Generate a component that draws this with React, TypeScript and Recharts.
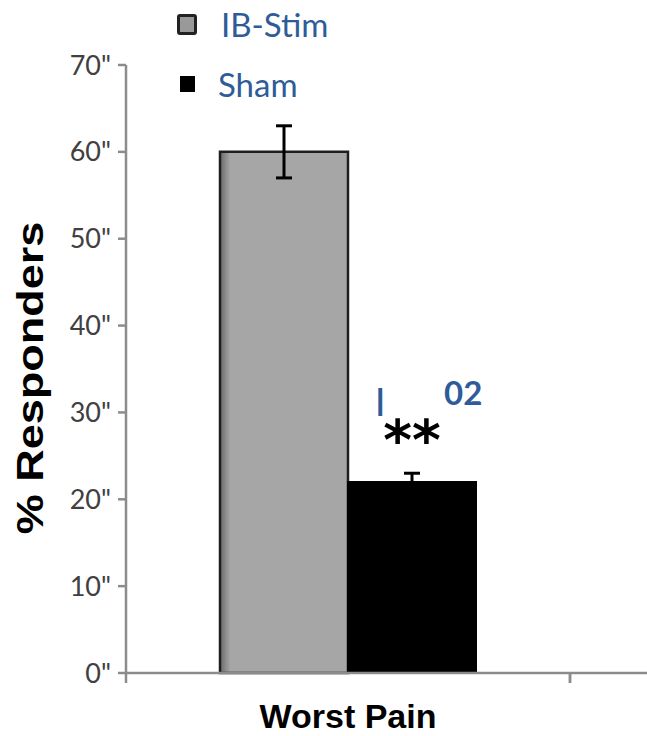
import React from 'react';
import { BarChart, Bar, XAxis, YAxis, ErrorBar, Legend, LabelList } from 'recharts';

const categories = ['Worst Pain', ''];
const ibStim = [60, null];
const ibStimErr = [3, null];
const sham = [22, null];
const shamErr = [1, null];
const yTicks = [0, 10, 20, 30, 40, 50, 60, 70];

const data = categories.map((name, i) => ({
  name,
  ib: ibStim[i],
  ibErr: ibStimErr[i],
  sham: sham[i],
  shamErr: shamErr[i],
}));

const CHART_W = 1014;
const CHART_H = 736;
const AXIS_W = 126;
const BAND = (CHART_W - AXIS_W) / categories.length;
const BLUE = '#2e5c99';
const AXIS_GRAY = '#8c8c8c';

const XTick = (props: any) => {
  const { x, y, payload } = props;
  return (
    <g>
      <line x1={x - BAND / 2} x2={x - BAND / 2} y1={y} y2={y + 10} stroke={AXIS_GRAY} strokeWidth={2.5} />
      <line x1={x + BAND / 2} x2={x + BAND / 2} y1={y} y2={y + 10} stroke={AXIS_GRAY} strokeWidth={2.5} />
      <text x={x} y={y + 55} textAnchor="middle" fontFamily="Liberation Sans, Arial" fontWeight="bold" fontSize={34} fill="#000">
        {payload.value}
      </text>
    </g>
  );
};

const YLabel = (props: any) => {
  const { viewBox } = props;
  const cx = viewBox.x + 43;
  const cy = viewBox.y + viewBox.height / 2 + 9;
  return (
    <text transform={`translate(${cx},${cy}) rotate(-90) scale(1.25,1)`} textAnchor="middle" fontFamily="Liberation Sans, Arial" fontWeight="bold" fontSize={36} fill="#000">
      % Responders
    </text>
  );
};

// significance marks above the Sham bar
const Significance = (props: any) => {
  const { x, y, width, value } = props;
  if (value == null) return null;
  return (
    <g>
      <text x={x + 28} y={y - 72} fontFamily="Liberation Sans" fontWeight="bold" fontSize={30} fill={BLUE}>|</text>
      <text x={x + 96} y={y - 77} fontFamily="Lato" fontWeight="bold" fontSize={33} fill={BLUE}>02</text>
      <text x={x + width / 2} y={y - 23} textAnchor="middle" fontFamily="DejaVu Sans" fontWeight="bold" fontSize={55} fill="#000">**</text>
    </g>
  );
};

const LegendBox = (props: any) => {
  const { payload } = props;
  return (
    <div style={{ position: 'relative', width: 200, height: 110 }}>
      {(payload || []).map((p: any, i: number) => {
        const first = i === 0;
        return (
          <div key={p.value} style={{ position: 'absolute', left: 0, top: first ? 0 : 60, height: 40, display: 'flex', alignItems: 'center' }}>
            <div
              style={{
                width: first ? 14 : 15,
                height: first ? 15 : 16,
                marginLeft: first ? 0 : 3,
                marginRight: first ? 24 : 23,
                background: first ? '#999' : '#000',
                border: first ? '3px solid #222' : 'none',
                borderRadius: first ? 3 : 0,
              }}
            />
            <span style={{ fontFamily: 'Lato', fontSize: 33, color: BLUE }}>{p.value}</span>
          </div>
        );
      })}
    </div>
  );
};

export default function App() {
  return (
    <div style={{ position: 'absolute', left: 0, top: 0, width: 647, height: 736, overflow: 'hidden', background: '#fff' }}>
      <BarChart
        width={CHART_W}
        height={CHART_H}
        data={data}
        margin={{ top: 65, right: 0, bottom: 0, left: 0 }}
        barCategoryGap={94}
        barGap={0}
      >
        <defs>
          <linearGradient id="ibFill" x1="0" y1="0" x2="1" y2="0">
            <stop offset="0%" stopColor="#6a6a6a" />
            <stop offset="8%" stopColor="#a6a6a6" />
            <stop offset="100%" stopColor="#a6a6a6" />
          </linearGradient>
        </defs>
        <XAxis
          dataKey="name"
          height={63}
          axisLine={{ stroke: AXIS_GRAY, strokeWidth: 2.5 }}
          tickLine={false}
          tickSize={0}
          tickMargin={0}
          tick={<XTick />}
          interval={0}
        />
        <YAxis
          width={AXIS_W}
          domain={[0, 70]}
          ticks={yTicks}
          interval={0}
          axisLine={{ stroke: AXIS_GRAY, strokeWidth: 2.5 }}
          tickLine={{ stroke: AXIS_GRAY, strokeWidth: 2.5 }}
          tickSize={8}
          tickMargin={7}
          tickFormatter={(v: number) => `${v}"`}
          tick={{ fill: '#404040', fontSize: 27, fontFamily: 'Lato' }}
          label={<YLabel />}
        />
        <Legend
          layout="vertical"
          verticalAlign="middle"
          align="center"
          wrapperStyle={{ position: 'absolute', top: 4, left: 177, width: 200 }}
          content={<LegendBox />}
        />
        <Bar dataKey="ib" name="IB-Stim" fill="url(#ibFill)" stroke="#1e1e1e" strokeWidth={2.5} isAnimationActive={false}>
          <ErrorBar dataKey="ibErr" direction="y" width={8} stroke="#000" strokeWidth={3} />
        </Bar>
        <Bar dataKey="sham" name="Sham" fill="#000" stroke="#000" strokeWidth={2} isAnimationActive={false}>
          <ErrorBar dataKey="shamErr" direction="y" width={8} stroke="#000" strokeWidth={3} />
          <LabelList dataKey="sham" content={<Significance />} />
        </Bar>
      </BarChart>
    </div>
  );
}
